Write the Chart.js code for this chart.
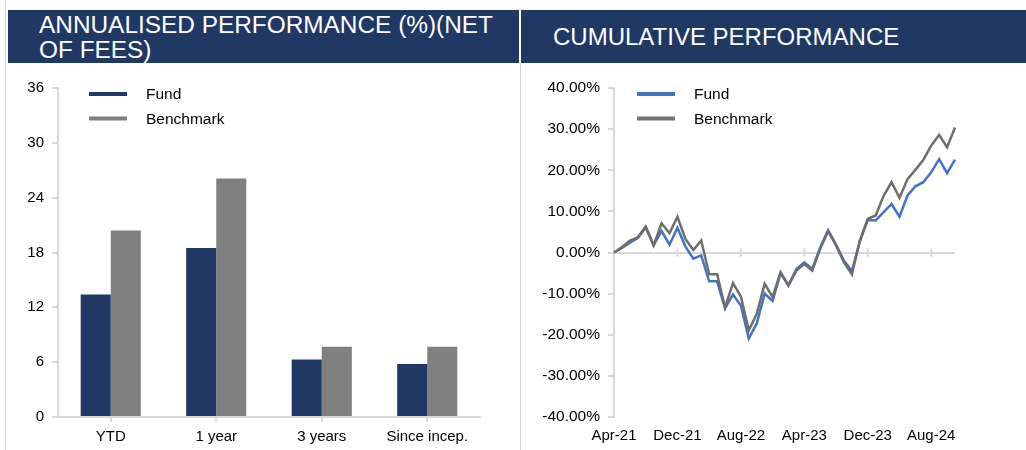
<!DOCTYPE html>
<html>
<head>
<meta charset="utf-8">
<script src="https://cdn.jsdelivr.net/npm/chart.js@4.4.1/dist/chart.umd.min.js"></script>
<style>
  body { margin: 0; background: #fff; width: 1026px; height: 450px; overflow: hidden; position: relative; font-family: "Liberation Sans", Arial, sans-serif; }
  .band { position: absolute; background: #1f3864; top: 10px; height: 53px; }
  .title { position: absolute; color: #fff; font-size: 24.4px; line-height: 25px; white-space: nowrap; }
  .edge { position: absolute; width: 1px; background: #d8d5ce; }
  canvas { position: absolute; }
</style>
</head>
<body>
<div class="edge" style="left:5px; top:0; height:450px;"></div>
<div class="edge" style="left:520px; top:63px; height:387px;"></div>
<div class="band" style="left:8px; width:511px;"></div>
<div class="band" style="left:521px; width:505px;"></div>
<div class="title" style="left:39px; top:12px;">ANNUALISED PERFORMANCE (%)(NET<br>OF FEES)</div>
<div class="title" style="left:553px; top:24px; font-size:24px;">CUMULATIVE PERFORMANCE</div>
<canvas id="annual" width="511" height="387" style="left:8px; top:63px;"></canvas>
<canvas id="cumulative" width="505" height="387" style="left:521px; top:63px;"></canvas>
<script>
const periods = ["YTD", "1 year", "3 years", "Since incep."];
const fundAnnual = [13.4, 18.5, 6.3, 5.8];
const benchAnnual = [20.4, 26.1, 7.7, 7.7];

const months = [
  "Apr-21", "May-21", "Jun-21", "Jul-21", "Aug-21", "Sep-21", "Oct-21", "Nov-21",
  "Dec-21", "Jan-22", "Feb-22", "Mar-22", "Apr-22", "May-22", "Jun-22", "Jul-22",
  "Aug-22", "Sep-22", "Oct-22", "Nov-22", "Dec-22", "Jan-23", "Feb-23", "Mar-23",
  "Apr-23", "May-23", "Jun-23", "Jul-23", "Aug-23", "Sep-23", "Oct-23", "Nov-23",
  "Dec-23", "Jan-24", "Feb-24", "Mar-24", "Apr-24", "May-24", "Jun-24", "Jul-24",
  "Aug-24", "Sep-24", "Oct-24", "Nov-24"
];
const fundCumulative = [
  0, 1.1, 2.4, 3.5, 6.1, 1.8, 5.2, 1.9, 6.0, 1.5, -1.5, -0.7, -7.0, -7.0, -13.6,
  -10.2, -12.9, -20.9, -17.3, -10.0, -11.8, -5.0, -8.0, -4.0, -2.4, -4.0, 1.2, 5.4,
  1.9, -2.0, -4.5, 2.7, 7.9, 7.8, 9.8, 11.8, 8.7, 13.8, 16.1, 17.1, 19.5, 22.7, 19.3, 22.6
];
const benchCumulative = [
  0, 1.3, 2.9, 3.7, 6.3, 1.7, 7.1, 4.7, 8.7, 3.3, 0.6, 2.9, -5.3, -5.3, -13.4,
  -7.4, -10.7, -18.9, -14.9, -7.6, -10.8, -4.8, -8.0, -4.4, -2.8, -4.4, 0.9, 5.2,
  1.7, -2.4, -5.3, 2.9, 8.2, 9.0, 13.8, 17.1, 13.3, 17.8, 20.1, 22.5, 26.0, 28.6, 25.6, 30.4
];
const annualTicks = [0, 6, 12, 18, 24, 30, 36];
const cumulativeTicks = [-40, -30, -20, -10, 0, 10, 20, 30, 40];
const labelEvery = 8;

const FONT = "'Liberation Sans', Arial, sans-serif";
const AXIS = "#d9d9d9";
Chart.defaults.font.family = FONT;
Chart.defaults.font.size = 15;
Chart.defaults.color = "#000";

// legend drawn inside the plot, like the original
function insideLegend(x, y) {
  return {
    id: "insideLegend",
    afterDraw(chart) {
      const ctx = chart.ctx;
      ctx.save();
      ctx.font = "15.5px " + FONT;
      ctx.textBaseline = "middle";
      chart.data.datasets.forEach((ds, i) => {
        const yy = y + i * 24.5;
        ctx.strokeStyle = ds.legendColor;
        ctx.lineWidth = 4;
        ctx.beginPath();
        ctx.moveTo(x, yy);
        ctx.lineTo(x + 38, yy);
        ctx.stroke();
        ctx.fillStyle = "#000";
        ctx.fillText(ds.label, x + 57, yy + 1);
      });
      ctx.restore();
    }
  };
}

new Chart(document.getElementById("annual"), {
  type: "bar",
  data: {
    labels: periods,
    datasets: [
      { label: "Fund", data: fundAnnual, backgroundColor: "#1f3864", legendColor: "#1f3864",
        barPercentage: 1, categoryPercentage: 0.57 },
      { label: "Benchmark", data: benchAnnual, backgroundColor: "#808080", legendColor: "#808080",
        barPercentage: 1, categoryPercentage: 0.57 }
    ]
  },
  options: {
    responsive: false,
    animation: false,
    layout: { padding: { top: 25, right: 39, left: 0, bottom: 0 } },
    plugins: { legend: { display: false }, tooltip: { enabled: false } },
    scales: {
      y: {
        min: 0, max: 36,
        afterBuildTicks: (s) => { s.ticks = annualTicks.map(v => ({ value: v })); },
        afterFit: (s) => { s.width = 50; },
        ticks: { padding: 8 },
        grid: { drawOnChartArea: false, tickLength: 6, color: AXIS, lineWidth: 2 },
        border: { color: AXIS, width: 2 }
      },
      x: {
        afterFit: (s) => { s.height = 33; },
        ticks: { padding: 6 },
        grid: { offset: false, drawOnChartArea: false, tickLength: 5, color: AXIS, lineWidth: 2 },
        border: { color: AXIS, width: 2 }
      }
    }
  },
  plugins: [insideLegend(81, 31)]
});

const zeroTicks = {
  id: "zeroTicks",
  beforeDatasetsDraw(chart) {
    const xs = chart.scales.x, ys = chart.scales.y;
    const y0 = ys.getPixelForValue(0);
    const ctx = chart.ctx;
    ctx.save();
    ctx.strokeStyle = AXIS;
    ctx.lineWidth = 2;
    for (let i = labelEvery; i < months.length; i += labelEvery) {
      const x = xs.getPixelForValue(i);
      ctx.beginPath();
      ctx.moveTo(x, y0 - 4);
      ctx.lineTo(x, y0 + 4);
      ctx.stroke();
    }
    ctx.restore();
  }
};

new Chart(document.getElementById("cumulative"), {
  type: "line",
  data: {
    labels: months,
    datasets: [
      { label: "Fund", data: fundCumulative, borderColor: "#4472c4", legendColor: "#4472c4",
        borderWidth: 2.5, pointRadius: 0, tension: 0, order: 1 },
      { label: "Benchmark", data: benchCumulative, borderColor: "#6e6e6e", legendColor: "#767171",
        borderWidth: 2.5, pointRadius: 0, tension: 0, order: 0 }
    ]
  },
  options: {
    responsive: false,
    animation: false,
    layout: { padding: { top: 25, right: 71, left: 0, bottom: 0 } },
    plugins: { legend: { display: false }, tooltip: { enabled: false } },
    scales: {
      y: {
        min: -40, max: 40,
        afterBuildTicks: (s) => { s.ticks = cumulativeTicks.map(v => ({ value: v })); },
        afterFit: (s) => { s.width = 93; },
        ticks: { padding: 8, font: { size: 15.5 }, callback: (v) => v.toFixed(2) + "%" },
        grid: {
          color: (c) => (c.tick && c.tick.value === 0 ? AXIS : "rgba(0,0,0,0)"),
          tickColor: AXIS, tickLength: 6, lineWidth: 2
        },
        border: { color: AXIS, width: 2 }
      },
      x: {
        offset: false,
        afterFit: (s) => { s.height = 33; },
        ticks: {
          autoSkip: false, maxRotation: 0, padding: 10,
          callback: (v, i) => (i % labelEvery === 0 ? months[i] : "")
        },
        grid: { display: false, drawTicks: false },
        border: { display: false }
      }
    }
  },
  plugins: [zeroTicks, insideLegend(116, 31)]
});
</script>
</body>
</html>
